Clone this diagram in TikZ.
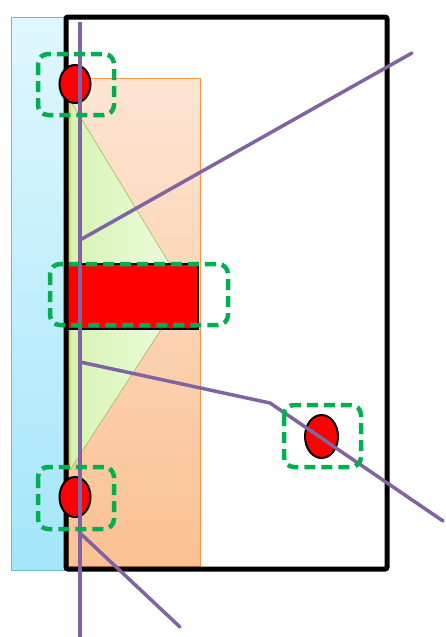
\documentclass[tikz,border=0pt]{standalone}
\usetikzlibrary{calc}

\definecolor{framepurple}{HTML}{8064A2}
\definecolor{boxgreen}{HTML}{00B050}

\tikzset{
  spot/.style={draw=black, line width=2pt, fill=red},
  zone/.style={draw=boxgreen, line width=4.5pt, dash pattern=on 11pt off 6pt, rounded corners=10pt},
  ray/.style={draw=framepurple, line width=3.5pt}
}

\begin{document}
\begin{tikzpicture}[x=1pt, y=-1pt]
  \useasboundingbox (0,0) rectangle (445,637);
  % panels
  \shade[draw={rgb,255:red,110;green,184;blue,206}, line width=1pt,
    top color={rgb,255:red,224;green,247;blue,254}, bottom color={rgb,255:red,164;green,230;blue,250}]
    (11,17) rectangle (66,570);
  \shade[draw={rgb,255:red,247;green,150;blue,70}, line width=0.8pt,
    top color={rgb,255:red,253;green,229;blue,211}, bottom color={rgb,255:red,251;green,193;blue,146}]
    (68,78) rectangle (200,566);
  \shade[draw={rgb,255:red,155;green,187;blue,89}, line width=0.6pt,
    left color={rgb,255:red,214;green,244;blue,178}, right color={rgb,255:red,240;green,251;blue,228}]
    (70,100) -- (186,291) -- (70,470) -- cycle;
  \draw[spot] (66,264) rectangle (198,329);
  \draw[line width=5pt, rounded corners=2pt] (66,17) rectangle (387,569);
  % spots
  \coordinate (T) at (75,84);
  \coordinate (B) at (75,497);
  \coordinate (R) at (321.5,436.5);
  \draw[spot] (T) ellipse (15.5 and 19);
  \draw[spot] (B) ellipse (15.5 and 20);
  \draw[spot] (R) ellipse (16.5 and 21.5);
  % rays
  \coordinate (V1) at (80,22);
  \coordinate (V2) at (80,637);
  \coordinate (A1) at (80,240);
  \coordinate (A2) at (412,53);
  \coordinate (C1) at (80,362);
  \coordinate (C2) at (270,403);
  \coordinate (C3) at (443,521);
  \coordinate (D1) at (80,533);
  \coordinate (D2) at (180,627);
  \draw[ray] (V1) -- (V2);
  \draw[ray, line cap=round] (A1) -- (A2);
  \draw[ray, line cap=round] (C1) -- (C2) -- (C3);
  \draw[ray, line cap=round] (D1) -- (D2);
  % zones
  \draw[zone] (38,54) rectangle (114,115);
  \draw[zone] (50,264) rectangle (228,325);
  \draw[zone] (38,467) rectangle (114,529);
  \draw[zone] (284,405) rectangle (361,467);
\end{tikzpicture}
\end{document}
